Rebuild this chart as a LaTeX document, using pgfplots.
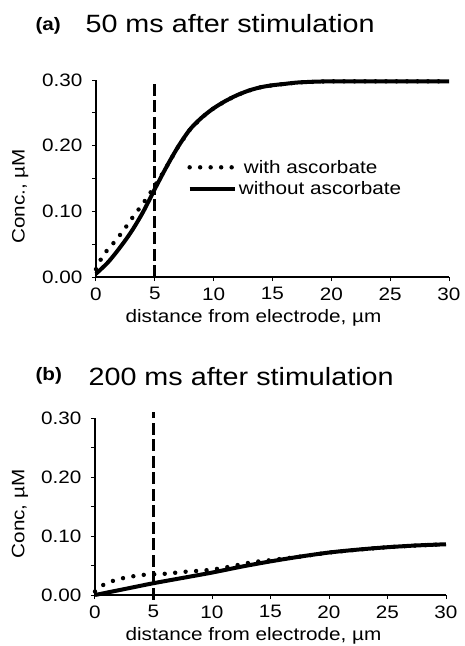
\documentclass[border=0pt]{standalone}
\usepackage{fontspec}
\setmainfont{Liberation Sans}[FakeStretch=1.15]
\usepackage{pgfplots}
\pgfplotsset{compat=1.18}

\newcommand{\lbl}{\fontsize{18}{21}\selectfont}

\pgfplotsset{
  panel/.style={
    scale only axis,
    xmin=0, xmax=30, ymin=0, ymax=0.3,
    axis x line*=bottom, axis y line*=left,
    axis line style={line width=2.4pt},
    xtick={0,5,...,30}, xticklabels={0,5,10,15,20,25,30},
    ytick={0,0.1,0.2,0.3}, yticklabels={0.00,0.10,0.20,0.30},
    minor ytick={0.05,0.15,0.25},
    tick align=outside, major tick length=4pt, minor tick length=4pt,
    tick style={line width=1pt, black},
    tick label style={font=\lbl},
    yticklabel style={xshift=-6pt},
    xticklabel style={yshift=-3pt},
    label style={font=\lbl},
    clip=false,
    xlabel={distance from electrode, µm},
  },
  dots/.style={black, line width=4.4pt, line cap=round, dash pattern=on 0pt off 10.5pt},
  full/.style={black, line width=4pt},
  vline/.style={black, line width=3pt, dash pattern=on 12pt off 4.5pt},
}

\begin{document}
\begin{tikzpicture}
\useasboundingbox (0,0) rectangle (465pt,-646pt);

\node[anchor=base west, font=\bfseries\lbl] at (32pt,-30pt) {(a)};
\node[anchor=base west, font=\fontsize{25}{28}\selectfont] at (82pt,-32pt) {50 ms after stimulation};

\begin{axis}[panel,
  at={(96pt,-277pt)}, anchor=south west,
  width=353pt, height=197pt,
  xlabel style={at={(axis description cs:0.5,0)}, anchor=base, yshift=-45pt, xshift=-19pt},
  ylabel={Conc., µM},
  ylabel style={at={(axis description cs:-0.215,0.41)}, anchor=center},
  legend style={draw=none, fill=none, font=\lbl, at={(axis description cs:0.25,0.615)},
    anchor=north west, row sep=3pt},
  legend cell align=left,
  legend image code/.code={\draw[#1] (0pt,0pt) -- (45pt,0pt);},
]
\addplot[dots] coordinates {
(0,0.012) (0.5,0.03) (1,0.042) (1.5,0.052) (2,0.063) (2.5,0.075) (3,0.088)
(3.5,0.1) (4,0.112) (4.5,0.125) (5,0.139) (5.5,0.153) (6,0.168) (7,0.199)
(8,0.225) (9,0.243) (10,0.257) (11,0.268) (12,0.277) (13,0.284) (14,0.289)
(15,0.292) (16,0.294) (17,0.296) (18,0.297) (20,0.298) (25,0.298) (30,0.298)};
\addlegendentry{\hspace{5pt}with ascorbate}
\addplot[full, smooth] coordinates {
(0,0.005) (1,0.022) (2,0.044) (3,0.069) (4,0.099) (5,0.134) (6,0.168) (7,0.199)
(8,0.225) (9,0.243) (10,0.257) (11,0.268) (12,0.277) (13,0.284) (14,0.289)
(15,0.292) (16,0.294) (17,0.296) (18,0.297) (20,0.298) (25,0.298) (30,0.298)};
\addlegendentry{without ascorbate}
\addplot[vline, forget plot] coordinates {(5,0) (5,0.295)};
\end{axis}

\node[anchor=base west, font=\bfseries\lbl] at (32pt,-380pt) {(b)};
\node[anchor=base west, font=\fontsize{25}{28}\selectfont] at (85pt,-385pt) {200 ms after stimulation};

\begin{axis}[panel,
  at={(95pt,-595pt)}, anchor=south west,
  width=351pt, height=177pt,
  xlabel style={at={(axis description cs:0.5,0)}, anchor=base, yshift=-45pt, xshift=-17pt},
  ylabel={Conc, µM},
  ylabel style={at={(axis description cs:-0.214,0.458)}, anchor=center},
]
\addplot[dots] coordinates {
(0,0.006) (0.7,0.017) (1.4,0.023) (2,0.027) (3,0.031) (4,0.034) (5,0.035)
(6,0.036) (7,0.038) (8,0.04) (9,0.041) (10,0.043) (11,0.046) (12,0.05)
(13,0.054) (14,0.057) (15,0.059) (17.5,0.065) (20,0.072) (22.5,0.077)
(25,0.081) (27.5,0.084) (30,0.086)};
\addplot[full, smooth] coordinates {
(0,0) (2.5,0.01) (5,0.02) (7.5,0.029) (10,0.038) (12.5,0.048) (15,0.057)
(17.5,0.065) (20,0.072) (22.5,0.077) (25,0.081) (27.5,0.084) (30,0.086)};
\addplot[vline] coordinates {(5,-0.008) (5,0.31)};
\end{axis}
\end{tikzpicture}
\end{document}
